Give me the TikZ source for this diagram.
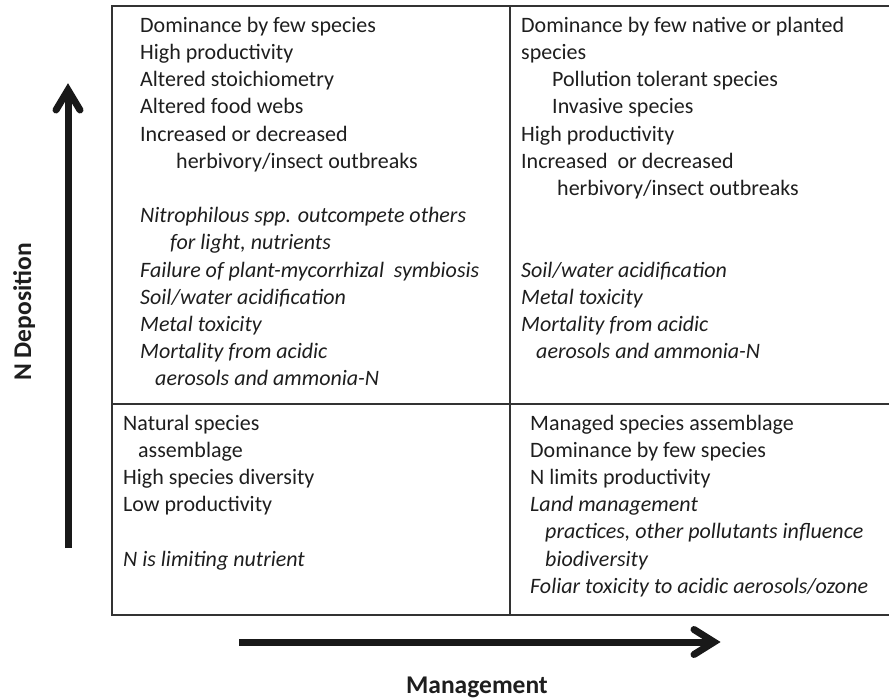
\documentclass[tikz,border=0pt]{standalone}
\usepackage{fontspec}
\setmainfont{Carlito}
\usetikzlibrary{calc}
\newcommand\bodyfont{\fontsize{22}{27}\selectfont}
\newcommand\labfont{\fontsize{25.5}{30}\selectfont\bfseries}
\definecolor{txt}{HTML}{1E1E1E}
\definecolor{frame}{HTML}{333333}
\tikzset{
  ln/.style={anchor=base west, inner sep=0pt, font=\bodyfont, text=txt},
  il/.style={anchor=base west, inner sep=0pt, font=\bodyfont\itshape, text=txt},
  framel/.style={draw=frame, line width=1.3pt},
  shaft/.style={draw=black!90, line width=7pt, line cap=butt},
  barb/.style={draw=black!90, line width=7pt, line cap=round, line join=miter},
  axlabel/.style={inner sep=0pt, font=\labfont, text=txt}
}
\begin{document}
\begin{tikzpicture}[x=1pt,y=-1pt]
\useasboundingbox (0,0) rectangle (889,699);
% frame
\coordinate (tlc) at (112,6);
\coordinate (trc) at (889,6);
\coordinate (blc) at (112,615);
\coordinate (brc) at (889,615);
\coordinate (mt) at (510,6);
\coordinate (mb) at (510,615);
\coordinate (ml) at (112,404);
\coordinate (mr) at (889,404);
\draw[framel] (trc) -- (tlc) -- (blc) -- (brc);
\draw[framel] (mt) -- (mb);
\draw[framel, line width=2pt] (ml) -- (mr);

% top-left quadrant
\node[ln] (a1) at (140,32.3) {Dominance by few species};
\node[ln] (a2) at (140,59.5) {High productivity};
\node[ln] (a3) at (140,86.7) {Altered stoichiometry};
\node[ln] (a4) at (140,113.9) {Altered food webs};
\node[ln] (a5) at (140,141.1) {Increased or decreased};
\node[ln] (a6) at (176,168.3) {herbivory/insect outbreaks};
\node[il] (a7) at (140,222.7) {Nitrophilous spp. outcompete others};
\node[il] (a8) at (170,249.9) {for light, nutrients};
\node[il] (a9) at (140,277.1) {Failure of plant-mycorrhizal~ symbiosis};
\node[il] (a10) at (140,304.3) {Soil/water acidification};
\node[il] (a11) at (140,331.5) {Metal toxicity};
\node[il] (a12) at (140,358.7) {Mortality from acidic};
\node[il] (a13) at (155,385.9) {aerosols and ammonia-N};

% top-right quadrant
\node[ln] (b1) at (521,32.3) {Dominance by few native or planted};
\node[ln] (b2) at (521,59.5) {species};
\node[ln] (b3) at (552,86.7) {Pollution tolerant species};
\node[ln] (b4) at (552,113.9) {Invasive species};
\node[ln] (b5) at (521,141.1) {High productivity};
\node[ln] (b6) at (521,168.3) {Increased~ or decreased};
\node[ln] (b7) at (557,195.5) {herbivory/insect outbreaks};
\node[il] (b8) at (521,277.1) {Soil/water acidification};
\node[il] (b9) at (521,304.3) {Metal toxicity};
\node[il] (b10) at (521,331.5) {Mortality from acidic};
\node[il] (b11) at (536,358.7) {aerosols and ammonia-N};

% bottom-left quadrant
\node[ln] (c1) at (123,430) {Natural species};
\node[ln] (c2) at (138,457.2) {assemblage};
\node[ln] (c3) at (123,484.4) {High species diversity};
\node[ln] (c4) at (123,511.6) {Low productivity};
\node[il] (c5) at (123,566) {N is limiting nutrient};

% bottom-right quadrant
\node[ln] (d1) at (530,430) {Managed species assemblage};
\node[ln] (d2) at (530,457.2) {Dominance by few species};
\node[ln] (d3) at (530,484.4) {N limits productivity};
\node[il] (d4) at (530,511.6) {Land management};
\node[il] (d5) at (545,538.8) {practices, other pollutants influence};
\node[il] (d6) at (545,566) {biodiversity};
\node[il] (d7) at (530,593.2) {Foliar toxicity to acidic aerosols/ozone};

% vertical arrow (N Deposition)
\coordinate (vb) at (68,548);
\coordinate (vt) at (68,90);
\draw[shaft] (vb) -- (vt);
\draw[barb] ($(vt)+(-12,20)$) -- (vt) -- ($(vt)+(12,20)$);
\node[axlabel, rotate=90, anchor=base] (ndep) at (31,312) {N Deposition};

% horizontal arrow (Management)
\coordinate (hl) at (239,642);
\coordinate (hr) at (714,642);
\draw[shaft] (hl) -- (hr);
\draw[barb] ($(hr)+(-20,-12.5)$) -- (hr) -- ($(hr)+(-20,12.5)$);
\node[axlabel, anchor=base] (mgmt) at (477,693) {Management};
\end{tikzpicture}
\end{document}
